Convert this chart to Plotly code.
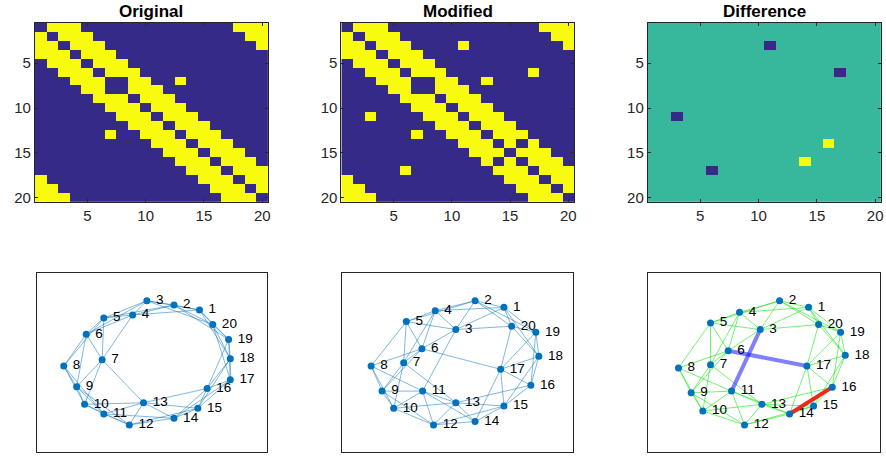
import numpy as np
import plotly.graph_objects as go

N = 20
nodes = list(range(1, N + 1))

# Original graph edges (ring lattice, one rewired edge 7-8 -> 7-13)
orig_edges = [(1, 2), (1, 3), (1, 4), (1, 18), (1, 19), (1, 20),
              (2, 3), (2, 4), (2, 5), (2, 19), (2, 20),
              (3, 4), (3, 5), (3, 6), (3, 20),
              (4, 5), (4, 6), (4, 7),
              (5, 6), (5, 7), (5, 8),
              (6, 7), (6, 8), (6, 9),
              (7, 9), (7, 10), (7, 13),
              (8, 9), (8, 10), (8, 11),
              (9, 10), (9, 11), (9, 12),
              (10, 11), (10, 12), (10, 13),
              (11, 12), (11, 13), (11, 14),
              (12, 13), (12, 14), (12, 15),
              (13, 14), (13, 15), (13, 16),
              (14, 15), (14, 16), (14, 17),
              (15, 16), (15, 17), (15, 18),
              (16, 17), (16, 18), (16, 19),
              (17, 18), (17, 19), (17, 20),
              (18, 19), (18, 20),
              (19, 20)]
added_edges = [(3, 11), (6, 17)]
removed_edges = [(14, 16)]

# Node layouts (layout units)
orig_x = [1.47, 0.70, -0.12, -0.55, -1.42, -1.95, -1.47, -2.63, -2.24, -2.00,
          -1.42, -0.65, -0.22, 0.70, 1.42, 1.70, 2.40, 2.40, 2.35, 1.87]
orig_y = [1.57, 1.72, 1.85, 1.42, 1.33, 0.84, 0.07, -0.12, -0.75, -1.28,
          -1.57, -1.90, -1.23, -1.70, -1.40, -0.80, -0.54, 0.10, 0.68, 1.13]
mod_x = [1.44, 0.57, -0.01, -0.63, -1.50, -1.03, -1.58, -2.56, -2.23, -1.88,
         -1.01, -0.68, -0.01, 0.57, 1.44, 2.25, 1.34, 2.49, 2.40, 1.67]
mod_y = [1.65, 1.85, 0.98, 1.55, 1.22, 0.40, -0.02, -0.12, -0.88, -1.40,
         -0.88, -1.90, -1.23, -1.80, -1.33, -0.70, -0.22, 0.17, 0.90, 1.08]
diff_x = [1.37, 0.50, -0.08, -0.70, -1.57, -1.04, -1.57, -2.53, -2.15, -1.80,
          -0.94, -0.55, -0.03, 0.80, 1.52, 2.08, 1.32, 2.47, 2.33, 1.67]
diff_y = [1.65, 1.85, 0.98, 1.50, 1.18, 0.34, -0.08, -0.18, -0.93, -1.48,
          -0.88, -1.90, -1.28, -1.57, -1.33, -0.76, -0.12, 0.20, 0.90, 1.13]

titles = ["Original", "Modified", "Difference"]
ticks = [5, 10, 15, 20]

# ---- build matrices from edge lists ----
def adj(edges):
    A = np.zeros((N, N), dtype=int)
    for i, j in edges:
        A[i - 1, j - 1] = 1
        A[j - 1, i - 1] = 1
    return A

mod_edges = [e for e in orig_edges if e not in removed_edges] + added_edges
common_edges = [e for e in orig_edges if e not in removed_edges]
A_orig = adj(orig_edges)
A_mod = adj(mod_edges)
A_diff = A_orig - A_mod

DARK = "rgb(53,42,135)"
YELLOW = "rgb(249,251,14)"
TEAL = "rgb(55,184,157)"
NODE = "rgb(0,114,189)"
AXC = "rgb(38,38,38)"

fig = go.Figure()

fig.add_trace(go.Heatmap(z=A_orig, x=nodes, y=nodes, zmin=0, zmax=1,
                         colorscale=[[0, DARK], [1, YELLOW]], showscale=False,
                         xaxis="x", yaxis="y", hoverinfo="skip"))
fig.add_trace(go.Heatmap(z=A_mod, x=nodes, y=nodes, zmin=0, zmax=1,
                         colorscale=[[0, DARK], [1, YELLOW]], showscale=False,
                         xaxis="x2", yaxis="y2", hoverinfo="skip"))
fig.add_trace(go.Heatmap(z=A_diff, x=nodes, y=nodes, zmin=-1, zmax=1,
                         colorscale=[[0, DARK], [0.5, TEAL], [1, YELLOW]], showscale=False,
                         xaxis="x3", yaxis="y3", hoverinfo="skip"))


def edge_xy(edges, px, py):
    xs, ys = [], []
    for i, j in edges:
        xs += [px[i - 1], px[j - 1], None]
        ys += [py[i - 1], py[j - 1], None]
    return xs, ys


def add_graph(edges, px, py, xa, ya, color, width):
    ex, ey = edge_xy(edges, px, py)
    fig.add_trace(go.Scatter(x=ex, y=ey, mode="lines", xaxis=xa, yaxis=ya,
                             line=dict(color=color, width=width),
                             hoverinfo="skip", showlegend=False))


def add_nodes(px, py, xa, ya):
    fig.add_trace(go.Scatter(x=px, y=py, mode="markers+text", xaxis=xa, yaxis=ya,
                             text=["\u00a0" + str(n) for n in nodes], textposition="middle right",
                             textfont=dict(family="Liberation Sans, Arial", size=13.5, color="black"),
                             marker=dict(color=NODE, size=7),
                             hoverinfo="skip", showlegend=False))


add_graph(orig_edges, orig_x, orig_y, "x4", "y4", "rgba(0,114,189,0.5)", 1)
add_nodes(orig_x, orig_y, "x4", "y4")
add_graph(mod_edges, mod_x, mod_y, "x5", "y5", "rgba(0,114,189,0.5)", 1)
add_nodes(mod_x, mod_y, "x5", "y5")
add_graph(common_edges, diff_x, diff_y, "x6", "y6", "rgba(0,230,0,0.55)", 1)
add_graph(added_edges, diff_x, diff_y, "x6", "y6", "rgba(0,0,255,0.5)", 4)
add_graph(removed_edges, diff_x, diff_y, "x6", "y6", "rgb(238,40,30)", 4)
add_nodes(diff_x, diff_y, "x6", "y6")

W, H = 886, 460
hm_x = [(35, 269), (342.5, 576), (650, 884)]
gr_x = [(36.7, 268.3), (342.7, 575), (650, 883.3)]
top_y = (23, 204)
bot_y = (275, 456)


def dom_x(a):
    return [a[0] / W, a[1] / W]


def dom_y(a):
    return [(H - a[1]) / H, (H - a[0]) / H]


tickfont = dict(family="Liberation Sans, Arial", size=15, color=AXC)
layout = dict(width=W, height=H, margin=dict(l=0, r=0, t=0, b=0),
              plot_bgcolor="white", paper_bgcolor="white", showlegend=False)

for k in range(3):
    sx = "" if k == 0 else str(k + 1)
    layout["xaxis" + sx] = dict(domain=dom_x(hm_x[k]), range=[0.5, 20.5], tickvals=ticks,
                                ticks="inside", ticklen=3, tickcolor=AXC, showline=True,
                                linecolor=AXC, linewidth=1, mirror="ticks", showgrid=False,
                                zeroline=False, tickfont=tickfont, anchor="y" + sx,
                                ticklabeloverflow="allow")
    layout["yaxis" + sx] = dict(domain=dom_y(top_y), range=[20.5, 0.5], tickvals=ticks,
                                ticks="inside", ticklen=3, tickcolor=AXC, showline=True,
                                linecolor=AXC, linewidth=1, mirror="ticks", showgrid=False,
                                zeroline=False, tickfont=tickfont, anchor="x" + sx,
                                ticklabeloverflow="allow")
    g = str(k + 4)
    layout["xaxis" + g] = dict(domain=dom_x(gr_x[k]), range=[-3.45, 3.52], showticklabels=False,
                               ticks="", showline=True, linecolor=AXC, linewidth=1, mirror=True,
                               showgrid=False, zeroline=False, anchor="y" + g)
    layout["yaxis" + g] = dict(domain=dom_y(bot_y), range=[-2.72, 2.70], showticklabels=False,
                               ticks="", showline=True, linecolor=AXC, linewidth=1, mirror=True,
                               showgrid=False, zeroline=False, anchor="x" + g)

annotations = []
for k in range(3):
    cx = (hm_x[k][0] + hm_x[k][1]) / 2 / W
    annotations.append(dict(text="<b>%s</b>" % titles[k], x=cx, y=(H - top_y[0]) / H,
                            xref="paper", yref="paper", xanchor="center", yanchor="bottom",
                            showarrow=False, yshift=0,
                            font=dict(family="Liberation Sans, Arial", size=17, color="black")))
layout["annotations"] = annotations

fig.update_layout(**layout)
fig.write_html("out.html",
               config={"displayModeBar": False},
               post_script="document.body.style.margin='0px';document.body.style.overflow='hidden';")
